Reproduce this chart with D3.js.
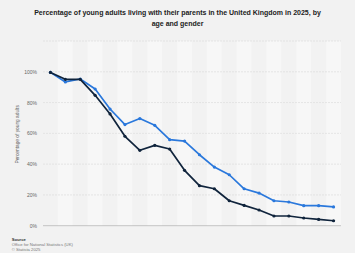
<!DOCTYPE html>
<html><head><meta charset="utf-8">
<script src="https://cdn.jsdelivr.net/npm/d3@7"></script>
<style>html,body{margin:0;padding:0;background:#f2f2f2;}svg{display:block;font-family:Arial,"Liberation Sans",sans-serif;}</style>
</head><body>
<script>
const categories = ["16","17","18","19","20","21","22","23","24","25","26","27","28","29","30","31","32","33","34","35"];
const seriesDark = [99.6,95.1,95.1,84.7,72.6,58.1,49.0,52.2,49.8,36.0,26.0,24.0,16.2,13.2,10.2,6.3,6.3,5.0,4.1,3.2];
const seriesBlue = [99.6,93.4,95.3,88.8,75.8,65.7,69.6,65.2,55.9,55.0,46.1,38.1,33.1,24.0,21.2,16.2,15.4,13.0,13.0,12.2];
const yTicks = [0,20,40,60,80,100];
const yMax = 120;
const titleLines = ["Percentage of young adults living with their parents in the United Kingdom in 2025, by","age and gender"];
const yTitle = "Percentage of young adults";
const sourceLines = ["Source","Office for National Statistics (UK)","© Statista 2025"];

const W=355,H=253;
const m={l:43,r:14,t:41,b:27.3};
const svg=d3.select("body").append("svg").attr("width",W).attr("height",H);
svg.append("rect").attr("width",W).attr("height",H).attr("fill","#f2f2f2");

const x=d3.scaleBand().domain(categories).range([m.l,W-m.r]).padding(0);
const y=d3.scaleLinear().domain([0,yMax]).range([H-m.b,m.t]);

// alternating bands
svg.append("g").selectAll("rect").data(categories).join("rect")
  .attr("x",d=>x(d)).attr("y",m.t).attr("width",x.bandwidth()).attr("height",y(0)-m.t)
  .attr("fill",(d,i)=>i%2?"#f7f7f7":"#f2f2f2");

// grid
const grid=[...yTicks.filter(v=>v>0),yMax];
svg.append("g").selectAll("line").data(grid).join("line")
  .attr("x1",m.l).attr("x2",W-m.r).attr("y1",d=>y(d)).attr("y2",d=>y(d))
  .attr("stroke","#dcdcdc").attr("stroke-width",0.7).attr("stroke-dasharray","2,1");
svg.append("line").attr("x1",m.l).attr("x2",W-m.r).attr("y1",y(0)).attr("y2",y(0))
  .attr("stroke","#b8b8b8").attr("stroke-width",0.8);

// y axis labels
const ya=d3.axisLeft(y).tickValues(yTicks).tickFormat(d=>d+"%").tickSize(0).tickPadding(6);
const gy=svg.append("g").attr("transform",`translate(${m.l},0)`).call(ya);
gy.select(".domain").remove();
gy.selectAll("text").attr("font-size",5).attr("fill","#666");

svg.append("text").attr("transform",`translate(19,${(y(0)+y(yMax))/2+1}) rotate(-90)`)
  .attr("text-anchor","middle").attr("font-size",4.8).attr("fill","#666").text(yTitle);

// title
svg.append("g").selectAll("text").data(titleLines).join("text")
  .attr("x",W/2).attr("y",(d,i)=>15+i*11.2).attr("text-anchor","middle")
  .attr("font-size",7).attr("font-weight","bold").attr("fill","#222").text(d=>d);

// lines
const cx=d=>x(d)+x.bandwidth()/2;
function drawSeries(vals,color){
  const data=categories.map((c,i)=>({c,v:vals[i]}));
  svg.append("path").datum(data).attr("fill","none").attr("stroke",color).attr("stroke-width",1.7)
    .attr("stroke-linejoin","round")
    .attr("d",d3.line().x(d=>cx(d.c)).y(d=>y(d.v)));
  svg.append("g").selectAll("circle").data(data).join("circle")
    .attr("cx",d=>cx(d.c)).attr("cy",d=>y(d.v)).attr("r",1.6).attr("fill",color);
}
drawSeries(seriesBlue,"#2a78dc");
drawSeries(seriesDark,"#10243c");

// source
svg.append("g").selectAll("text").data(sourceLines).join("text")
  .attr("x",11.7).attr("y",(d,i)=>240.6+i*5.4).attr("font-size",4.2)
  .attr("font-weight",(d,i)=>i==0?"bold":"normal")
  .attr("fill",(d,i)=>i==0?"#333":"#777").text(d=>d);
</script>
</body></html>
